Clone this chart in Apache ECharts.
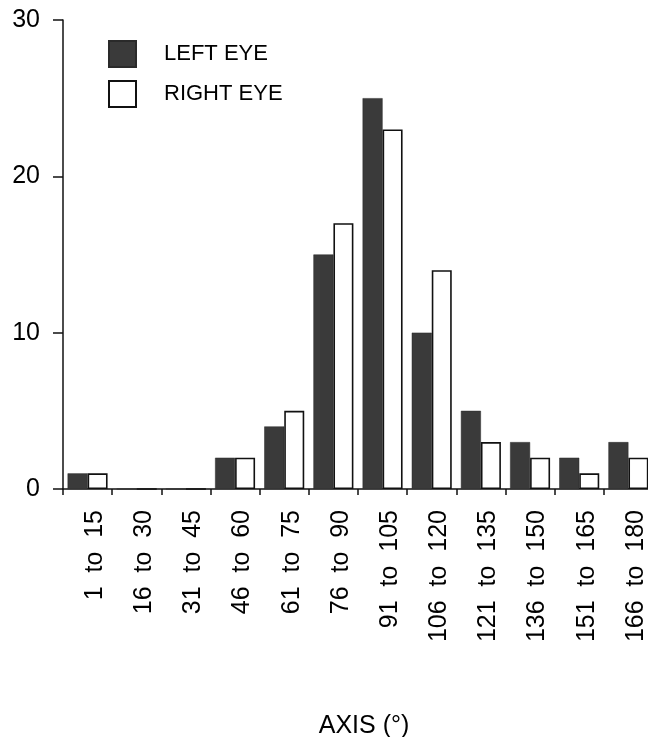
<!DOCTYPE html>
<html>
<head>
<meta charset="utf-8">
<script src="https://cdn.jsdelivr.net/npm/echarts@6/dist/echarts.min.js"></script>
<style>
  html, body { margin: 0; padding: 0; background: #fff; }
  #chart { width: 648px; height: 737px; }
</style>
</head>
<body>
<div id="chart"></div>
<script>
// Astigmatism axis ranges (degrees)
const categories = ['1 to 15', '16 to 30', '31 to 45', '46 to 60', '61 to 75', '76 to 90',
  '91 to 105', '106 to 120', '121 to 135', '136 to 150', '151 to 165', '166 to 180'];
// Number of eyes in each range
const leftEye = [1, 0, 0, 2, 4, 15, 25, 10, 5, 3, 2, 3];
const rightEye = [1, 0, 0, 2, 5, 17, 23, 14, 3, 2, 1, 2];
const yTicks = [0, 10, 20, 30];

const FONT = '"Liberation Sans", Arial, Helvetica, sans-serif';

const chart = echarts.init(document.getElementById('chart'), null, { renderer: 'canvas' });
chart.setOption({
  backgroundColor: '#ffffff',
  animation: false,
  legend: {
    orient: 'vertical',
    left: 108,
    top: 40,
    padding: 0,
    icon: 'rect',
    itemWidth: 27,
    itemHeight: 26,
    itemGap: 12,
    data: ['LEFT EYE', 'RIGHT EYE'],
    textStyle: { fontFamily: FONT, fontSize: 22, color: '#000', padding: [0, 0, 0, 23] }
  },
  grid: {
    left: 63, top: 20, width: 590, height: 469,
    containLabel: false,
    outerBoundsMode: 'none'
  },
  xAxis: {
    type: 'category',
    data: categories,
    name: 'AXIS (°)',
    nameLocation: 'middle',
    nameGap: 225,
    nameTextStyle: { fontFamily: FONT, fontSize: 25, color: '#000', padding: [0, 0, 0, 12] },
    axisLine: { lineStyle: { color: '#111', width: 1.5 } },
    axisTick: { show: true, length: 6, lineStyle: { color: '#111', width: 1.5 } },
    axisLabel: {
      rotate: 90,
      margin: 21,
      fontFamily: FONT,
      fontSize: 25,
      lineHeight: 15,
      verticalAlign: 'top',
      color: '#000',
      interval: 0,
      formatter: v => v.split(' ').join('  ')
    }
  },
  yAxis: {
    type: 'value',
    min: yTicks[0],
    max: yTicks[yTicks.length - 1],
    interval: 10,
    splitLine: { show: false },
    axisLine: { show: true, lineStyle: { color: '#111', width: 1.5 } },
    axisTick: { show: true, length: 10, lineStyle: { color: '#111', width: 1.5 } },
    axisLabel: { margin: 23, fontFamily: FONT, fontSize: 25, color: '#000' }
  },
  series: [
    {
      name: 'LEFT EYE',
      type: 'bar',
      data: leftEye,
      barWidth: 20,
      barGap: '0%',
      itemStyle: { color: '#3a3a3a', borderColor: '#2a2a2a', borderWidth: 0.5 }
    },
    {
      name: 'RIGHT EYE',
      type: 'bar',
      data: rightEye,
      barWidth: 20,
      barGap: '0%',
      itemStyle: { color: '#ffffff', borderColor: '#111', borderWidth: 1.6 }
    }
  ]
});
</script>
</body>
</html>
